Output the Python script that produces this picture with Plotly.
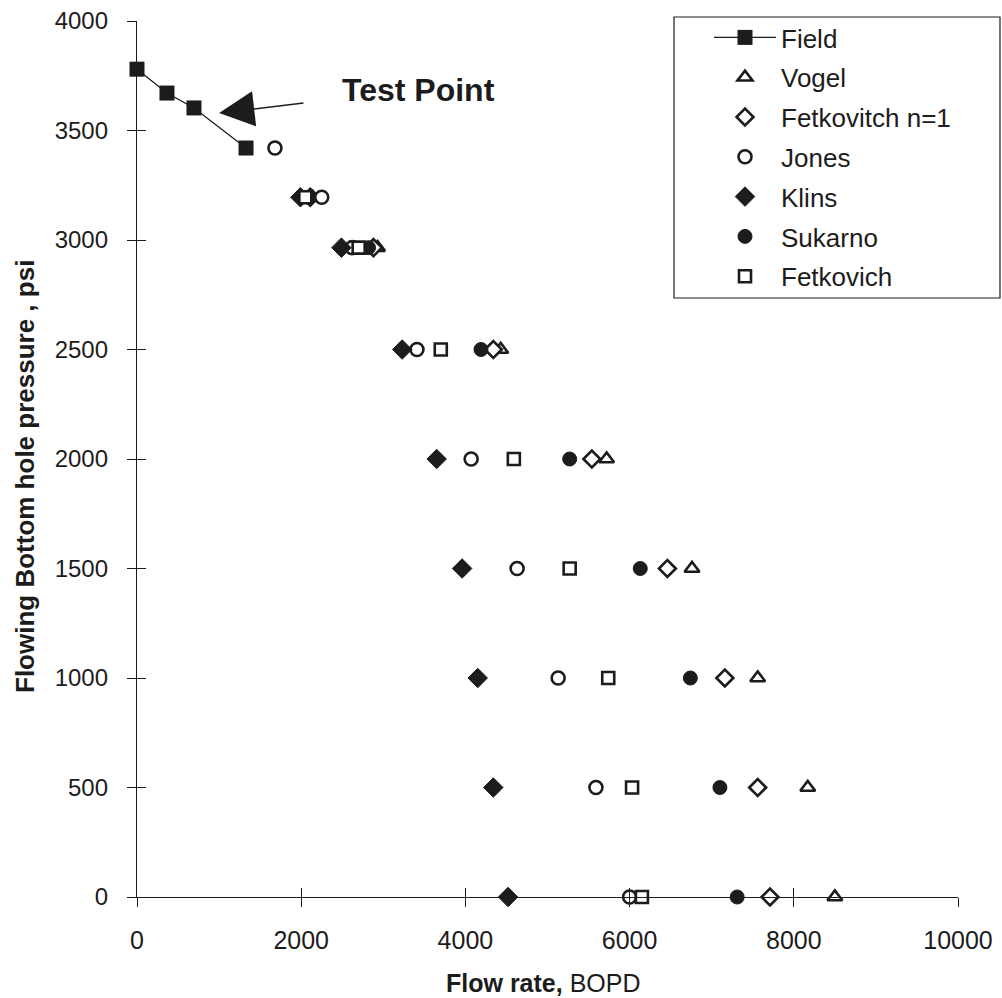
import plotly.graph_objects as go

# ---- data ----
field_q = [0, 365, 694, 1328]
field_p = [3780, 3671, 3603, 3420]

p_levels = [3195, 2965, 2500, 2000, 1500, 1000, 500, 0]
vogel_q = [2140, 2930, 4430, 5720, 6760, 7560, 8170, 8500]
fetk1_q = [2110, 2880, 4340, 5540, 6460, 7160, 7560, 7710]
jones_p = [3420, 3195, 2965, 2500, 2000, 1500, 1000, 500, 0]
jones_q = [1680, 2250, 2620, 3410, 4070, 4630, 5130, 5590, 6000]
klins_q = [1990, 2490, 3230, 3650, 3960, 4150, 4340, 4520]
sukarno_q = [2090, 2820, 4190, 5270, 6130, 6740, 7100, 7310]
fetkovich_q = [2050, 2700, 3700, 4590, 5270, 5740, 6030, 6150]

x_ticks = [0, 2000, 4000, 6000, 8000, 10000]
x_ticktext = ["0", "2000", "4000", "6000", "8000", "10000"]
y_ticks = [0, 500, 1000, 1500, 2000, 2500, 3000, 3500, 4000]

INK = "#1c1c1c"
FONT = "Liberation Sans, Arial, sans-serif"

fig = go.Figure()

fig.add_trace(go.Scatter(
    x=field_q, y=field_p, name="Field", mode="lines+markers",
    line=dict(color=INK, width=1.3),
    marker=dict(symbol="square", size=15, color=INK),
    cliponaxis=False, legendgroup="a"))

def open_trace(name, q, p, sym, size, grp):
    fig.add_trace(go.Scatter(
        x=q, y=p, name=name, mode="markers",
        marker=dict(symbol=sym, size=size, color="white",
                    line=dict(color=INK, width=2.6)),
        cliponaxis=False, legendgroup=grp))

def filled_trace(name, q, p, sym, size, grp):
    fig.add_trace(go.Scatter(
        x=q, y=p, name=name, mode="markers",
        marker=dict(symbol=sym, size=size, color=INK,
                    line=dict(color=INK, width=1)),
        cliponaxis=False, legendgroup=grp))

open_trace("Vogel", vogel_q, p_levels, "triangle-up", 13, "b")
open_trace("Fetkovitch n=1", fetk1_q, p_levels, "diamond", 13, "c")
open_trace("Jones", jones_q, jones_p, "circle", 13, "d")
filled_trace("Klins", klins_q, p_levels, "diamond", 15, "e")
filled_trace("Sukarno", sukarno_q, p_levels, "circle", 14, "f")
open_trace("Fetkovich", fetkovich_q, p_levels, "square", 12, "g")

# empty trace on overlay axes (inside tick marks -> crossing ticks)
fig.add_trace(go.Scatter(x=[], y=[], xaxis="x2", yaxis="y2",
                         showlegend=False, hoverinfo="skip"))

L, R, T, B = 137, 44, 21, 101
PW, PH = 1002 - L - R, 998 - T - B

def px_x(px):
    return (px - L) / PW

def px_y(py):
    return (998 - B - py) / PH

fig.update_layout(
    width=1002, height=998,
    margin=dict(l=L, r=R, t=T, b=B, autoexpand=False),
    paper_bgcolor="white", plot_bgcolor="white",
    font=dict(family=FONT, color=INK),
    showlegend=True,
    legend=dict(
        x=px_x(709), y=px_y(14), xanchor="left", yanchor="top",
        bgcolor="rgba(0,0,0,0)", borderwidth=0,
        font=dict(family=FONT, size=26, color=INK),
        tracegroupgap=3, itemwidth=62,
    ),
    shapes=[dict(type="rect", xref="paper", yref="paper",
                 x0=px_x(674), x1=px_x(1000), y0=px_y(298), y1=px_y(17),
                 line=dict(color=INK, width=1.2), fillcolor="white", layer="below")],
    xaxis=dict(
        range=[0, 10000], tickvals=x_ticks, ticktext=x_ticktext,
        ticks="outside", ticklen=9,
        tickcolor=INK, tickwidth=1, showline=True, linecolor=INK, linewidth=1.3,
        showgrid=False, zeroline=False,
        tickfont=dict(family=FONT, size=25, color=INK), ticklabelstandoff=12,
    ),
    yaxis=dict(
        range=[0, 4000], tickvals=y_ticks, ticks="outside", ticklen=9,
        tickcolor=INK, tickwidth=1, showline=True, linecolor=INK, linewidth=1.3,
        showgrid=False, zeroline=False,
        tickfont=dict(family=FONT, size=24, color=INK), ticklabelstandoff=14,
    ),
    xaxis2=dict(overlaying="x", matches="x", anchor="y2", range=[0, 10000],
                tickvals=x_ticks, ticks="inside", ticklen=9, tickcolor=INK,
                showticklabels=False, showline=False, showgrid=False, zeroline=False),
    yaxis2=dict(overlaying="y", matches="y", anchor="x2", range=[0, 4000],
                tickvals=y_ticks, ticks="inside", ticklen=9, tickcolor=INK,
                showticklabels=False, showline=False, showgrid=False, zeroline=False),
    annotations=[
        dict(x=1000, y=3580, ax=2046, ay=3626, xref="x", yref="y",
             axref="x", ayref="y", text="", showarrow=True,
             arrowhead=2, arrowwidth=1.5, arrowsize=4.7, arrowcolor=INK),
        dict(x=3423, y=3686, xref="x", yref="y", text="<b>Test Point</b>",
             xanchor="center", yanchor="middle",
             showarrow=False, font=dict(family=FONT, size=32, color=INK)),
        dict(x=px_x(25), y=px_y(477), xref="paper", yref="paper",
             xanchor="center", yanchor="middle",
             text="<b>Flowing Bottom hole pressure , psi</b>", textangle=-90,
             showarrow=False, font=dict(family=FONT, size=26, color=INK)),
        dict(x=px_x(543), y=px_y(983), xref="paper", yref="paper",
             xanchor="center", yanchor="middle",
             text="<b>Flow rate,</b> BOPD",
             showarrow=False, font=dict(family=FONT, size=25, color=INK)),
    ],
)

fig.write_html("out.html")
